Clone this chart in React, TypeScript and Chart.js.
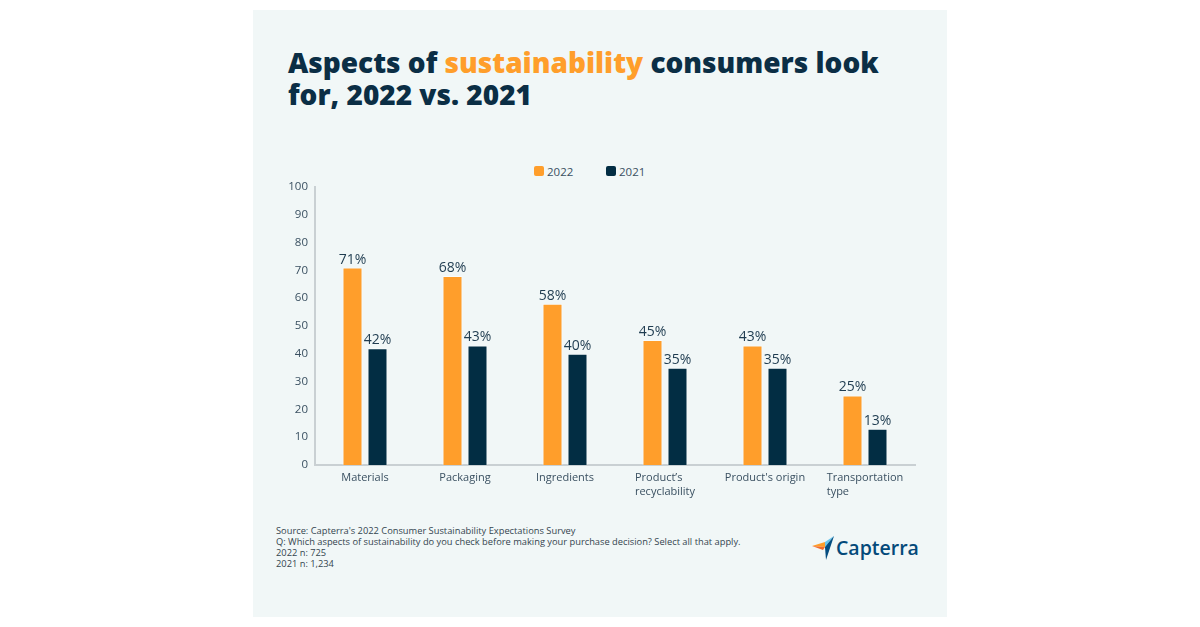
import React, { useEffect, useRef } from "react";
import { Chart, registerables } from "chart.js";

Chart.register(...registerables);

const categories: string[][] = [
  ["Materials"],
  ["Packaging"],
  ["Ingredients"],
  ["Product\u2019s", "recyclability"],
  ["Product's origin"],
  ["Transportation", "type"],
];
const values2022 = [71, 68, 58, 45, 43, 25];
const values2021 = [42, 43, 40, 35, 35, 13];
const yTicks = [0, 10, 20, 30, 40, 50, 60, 70, 80, 90, 100];
const footerLines = [
  "Source: Capterra's 2022 Consumer Sustainability Expectations Survey",
  "Q: Which aspects of sustainability do you check before making your purchase decision? Select all that apply.",
  "2022 n: 725",
  "2021 n: 1,234",
];

const ORANGE = "#FF9E2B";
const NAVY = "#022D43";
const TEXT = "#3A5061";
const FONT = "'Open Sans', 'Noto Sans', sans-serif";

const labelPlugin = {
  id: "barValueLabels",
  afterDatasetsDraw(chart: any) {
    const ctx = chart.ctx;
    ctx.save();
    ctx.font = `14px ${FONT}`;
    ctx.fillStyle = "#1F3C50";
    ctx.textAlign = "center";
    ctx.textBaseline = "bottom";
    chart.data.datasets.forEach((ds: any, di: number) => {
      const meta = chart.getDatasetMeta(di);
      meta.data.forEach((bar: any, i: number) => {
        ctx.fillText(`${ds.data[i]}%`, bar.x, bar.y - 1);
      });
    });
    ctx.restore();
  },
};

const xLabelPlugin = {
  id: "leftAlignedXLabels",
  afterDraw(chart: any) {
    const ctx = chart.ctx;
    const xs = chart.scales.x;
    const bottom = chart.chartArea.bottom;
    ctx.save();
    ctx.font = `11px ${FONT}`;
    ctx.fillStyle = TEXT;
    ctx.textAlign = "left";
    ctx.textBaseline = "middle";
    categories.forEach((lines, i) => {
      const cx = xs.getPixelForValue(i);
      const w = Math.max(...lines.map((l) => ctx.measureText(l).width));
      lines.forEach((l, li) => {
        ctx.fillText(l, cx - w / 2, bottom + 13 + li * 14);
      });
    });
    ctx.restore();
  },
};

function BarChart() {
  const ref = useRef<HTMLCanvasElement | null>(null);
  useEffect(() => {
    if (!ref.current) return;
    const chart = new Chart(ref.current, {
      type: "bar",
      data: {
        labels: categories.map((c) => c.join(" ")),
        datasets: [
          {
            label: "2022",
            data: values2022,
            backgroundColor: ORANGE,
            borderColor: "rgba(255,255,255,0.6)",
            borderWidth: 1,
            categoryPercentage: 0.5,
            barPercentage: 0.8,
          },
          {
            label: "2021",
            data: values2021,
            backgroundColor: NAVY,
            borderColor: "rgba(255,255,255,0.6)",
            borderWidth: 1,
            categoryPercentage: 0.5,
            barPercentage: 0.8,
          },
        ],
      },
      options: {
        responsive: false,
        animation: false,
        maintainAspectRatio: false,
        layout: { padding: { top: 37, right: 32, left: 0, bottom: 0 } },
        plugins: {
          legend: { display: false },
          tooltip: { enabled: false },
        },
        scales: {
          x: {
            grid: { display: false, drawTicks: false },
            border: { display: true, color: "#C9D0D3", width: 2 },
            ticks: {
              color: "rgba(0,0,0,0)",
              font: { family: FONT, size: 11 },
              padding: 4,
              maxRotation: 0,
              autoSkip: false,
            },
            afterFit(scale: any) {
              scale.height = 45;
            },
          },
          y: {
            min: 0,
            max: 100,
            grid: { display: false, drawTicks: false },
            border: { display: true, color: "#C9D0D3", width: 2 },
            afterBuildTicks(scale: any) {
              scale.ticks = yTicks.map((v) => ({ value: v }));
            },
            ticks: {
              color: TEXT,
              font: { family: FONT, size: 11.5 },
              padding: 7,
            },
            afterFit(scale: any) {
              scale.width = 62;
            },
          },
        },
      },
      plugins: [labelPlugin, xLabelPlugin],
    });
    return () => chart.destroy();
  }, []);
  return (
    <canvas
      ref={ref}
      width={694}
      height={360}
      style={{ position: "absolute", left: 253, top: 150, width: 694, height: 360 }}
    />
  );
}

function Logo() {
  return (
    <div style={{ position: "absolute", left: 812, top: 535, height: 28 }}>
      <svg width="24" height="26" viewBox="0 0 24 26" style={{ position: "absolute", left: 0, top: 1 }}>
        <polygon points="0,10 13,6 13,11" fill="#FF9D28" />
        <polygon points="0,10 13,11 11,14" fill="#F26B2A" />
        <polygon points="13,6 22,0 13,11" fill="#68C5ED" />
        <polygon points="13,11 22,0 14,24" fill="#044D80" />
      </svg>
      <div
        style={{
          position: "absolute",
          left: 24,
          top: -1,
          fontFamily: FONT,
          fontSize: 19.5,
          fontWeight: 600,
          color: "#044A7A",
          whiteSpace: "nowrap",
        }}
      >
        Capterra
      </div>
    </div>
  );
}

export default function App() {
  return (
    <div style={{ position: "absolute", left: 0, top: 0, width: 1200, height: 627, background: "#FFFFFF", overflow: "hidden" }}>
      <div style={{ position: "absolute", left: 253, top: 10, width: 694, height: 607, background: "#F1F7F7" }} />
      <div
        style={{
          position: "absolute",
          left: 288,
          top: 46,
          width: 640,
          fontFamily: FONT,
          fontSize: 28,
          fontWeight: 800,
          lineHeight: "32px",
          color: "#0B2E45",
          whiteSpace: "nowrap",
        }}
      >
        Aspects of <span style={{ color: ORANGE }}>sustainability</span> consumers look
        <br />
        for, 2022 vs. 2021
      </div>
      {[
        { label: "2022", color: ORANGE, x: 534 },
        { label: "2021", color: NAVY, x: 606 },
      ].map((it) => (
        <div key={it.label} style={{ position: "absolute", left: it.x, top: 163, height: 16, display: "flex", alignItems: "center" }}>
          <div style={{ width: 10, height: 10, borderRadius: 2, background: it.color, marginRight: 3 }} />
          <span style={{ fontFamily: FONT, fontSize: 11.5, color: TEXT }}>{it.label}</span>
        </div>
      ))}
      <BarChart />
      <div
        style={{
          position: "absolute",
          left: 276,
          top: 525,
          fontFamily: FONT,
          fontSize: 9.3,
          lineHeight: "11px",
          color: "#34454F",
          whiteSpace: "nowrap",
        }}
      >
        {footerLines.map((l) => (
          <div key={l}>{l}</div>
        ))}
      </div>
      <Logo />
    </div>
  );
}
